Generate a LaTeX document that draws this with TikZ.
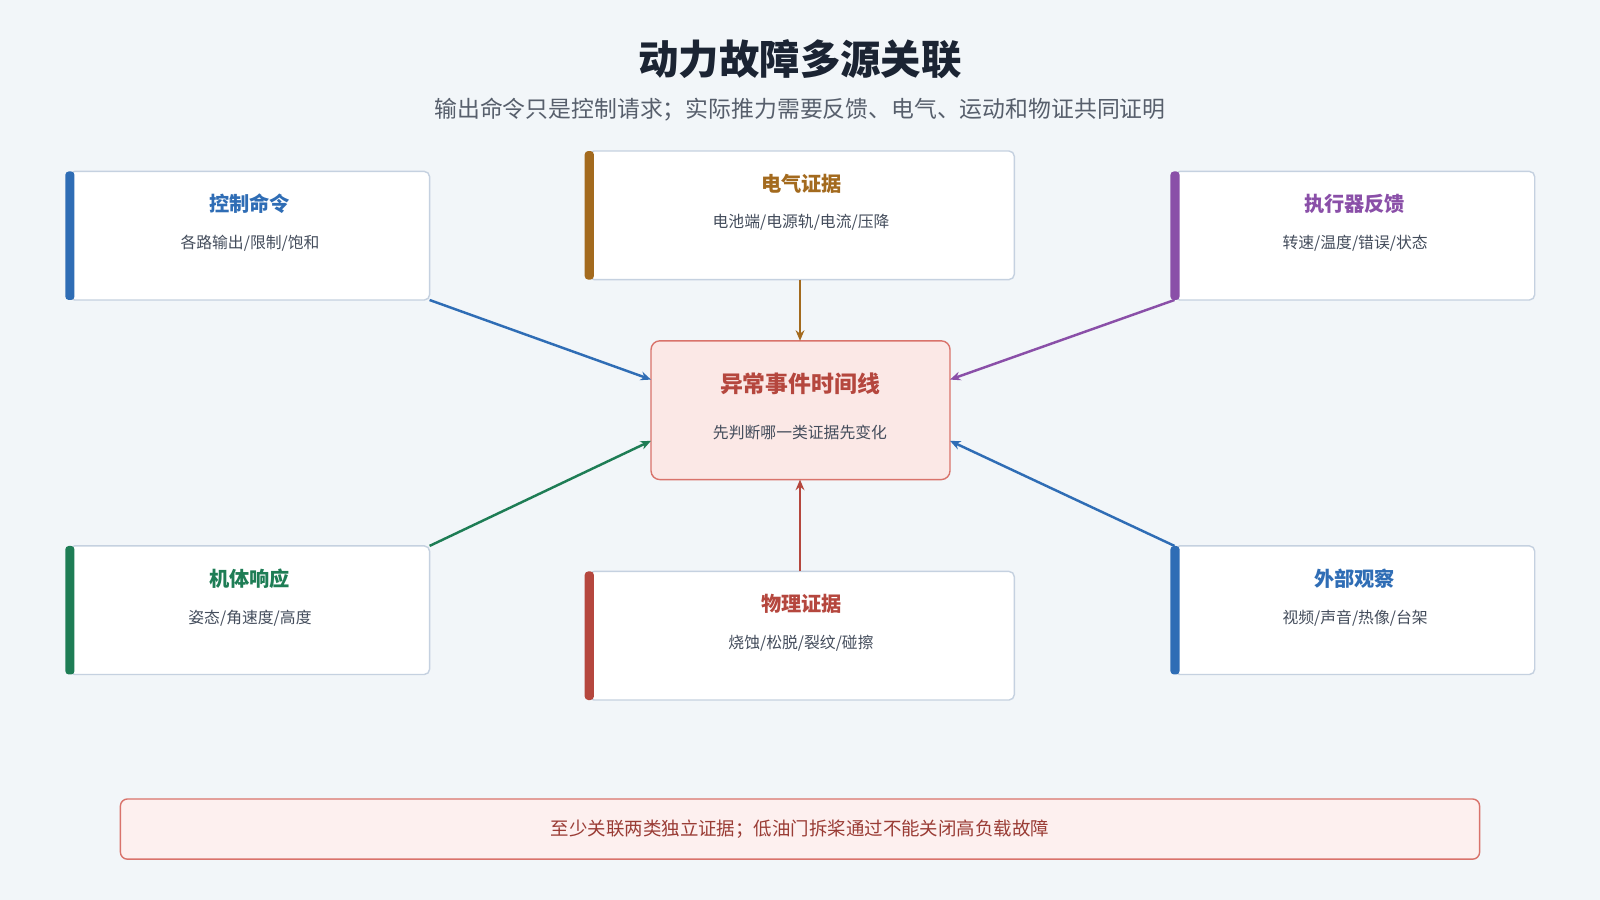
\documentclass[tikz,border=0pt]{standalone}
\usepackage{fontspec}
\setmainfont{Noto Sans CJK SC}
\usetikzlibrary{arrows.meta}
\definecolor{bg}{HTML}{F2F6F9}
\definecolor{bd}{HTML}{C5D1E0}
\definecolor{cblue}{HTML}{2F6DB5}
\definecolor{cbrown}{HTML}{A36A1E}
\definecolor{cpurple}{HTML}{8A4FA8}
\definecolor{cgreen}{HTML}{1E7D55}
\definecolor{cred}{HTML}{B5473E}
\definecolor{sub}{HTML}{444D5C}
\definecolor{title}{HTML}{1B2433}
\definecolor{pinkf}{HTML}{FBE8E6}
\definecolor{pinkd}{HTML}{D9736B}
\definecolor{notef}{HTML}{FDF0EF}
\newcommand{\srcbox}[7]{%
 \draw[box] (#2,#3) rectangle (#4,#5);
 \fill[#6,rounded corners=2pt] (#2-4,#3) rectangle (#2+5,#5);
 \node[ttl=#6] (#1t) at ({(#2+#4)/2},#3+32) {#7};
 \coordinate (#1nw) at (#2,#3); \coordinate (#1se) at (#4,#5);}
\begin{document}
\begin{tikzpicture}[x=0.020408cm,y=-0.020408cm,
  box/.style={draw=bd,fill=white,rounded corners=3pt,line width=0.8pt},
  ttl/.style={font=\fontsize{11.5}{13}\selectfont\bfseries,text=#1},
  st/.style={font=\fontsize{9}{10}\selectfont,text=sub},
  arr/.style={draw=#1,line width=1.4pt,-{Stealth[length=6pt,width=5pt]}}]
\useasboundingbox (0,0) rectangle (1568,882);
\fill[bg] (0,0) rectangle (1568,882);
\node[font=\fontsize{23}{26}\selectfont\bfseries,text=title] (t) at (784,58) {动力故障多源关联};
\node[font=\fontsize{13}{15}\selectfont,text=sub!90] (s) at (784,107) {输出命令只是控制请求；实际推力需要反馈、电气、运动和物证共同证明};
\srcbox{ctl}{68}{168}{421}{294}{cblue}{控制命令}
\node[st] (ctls) at (245,238) {各路输出/限制/饱和};
\srcbox{ele}{577}{148}{994}{274}{cbrown}{电气证据}
\node[st] (eles) at (785,218) {电池端/电源轨/电流/压降};
\srcbox{act}{1151}{168}{1504}{294}{cpurple}{执行器反馈}
\node[st] (acts) at (1328,238) {转速/温度/错误/状态};
\srcbox{bod}{68}{535}{421}{661}{cgreen}{机体响应}
\node[st] (bods) at (245,606) {姿态/角速度/高度};
\srcbox{phy}{577}{560}{994}{686}{cred}{物理证据}
\node[st] (phys) at (785,630) {烧蚀/松脱/裂纹/碰擦};
\srcbox{ext}{1151}{535}{1504}{661}{cblue}{外部观察}
\node[st] (exts) at (1328,606) {视频/声音/热像/台架};
\node[draw=pinkd,fill=pinkf,rounded corners=5pt,line width=0.8pt,minimum width=293*0.020408cm,minimum height=136*0.020408cm] (cen) at (784.5,402) {};
\node[font=\fontsize{13}{15}\selectfont\bfseries,text=cred] (cent) at (784,376) {异常事件时间线};
\node[st] (cens) at (784,424) {先判断哪一类证据先变化};
\coordinate (cwu) at (638,372); \coordinate (cwd) at (638,432);
\coordinate (ceu) at (931,372); \coordinate (ced) at (931,432);
\coordinate (cn) at (784,334); \coordinate (cs) at (784,470);
\coordinate (ctlo) at (421,294); \coordinate (eleo) at (784,274);
\coordinate (acto) at (1151,294); \coordinate (bodo) at (421,535);
\coordinate (phyo) at (784,560); \coordinate (exto) at (1151,535);
\draw[arr=cblue] (ctlo) -- (cwu);
\draw[arr=cbrown] (eleo) -- (cn);
\draw[arr=cpurple] (acto) -- (ceu);
\draw[arr=cgreen] (bodo) -- (cwd);
\draw[arr=cred] (phyo) -- (cs);
\draw[arr=cblue] (exto) -- (ced);
\node[draw=pinkd,fill=notef,rounded corners=4pt,line width=0.8pt,minimum width=1332*0.020408cm,minimum height=59*0.020408cm,text=cred!85!black,font=\fontsize{10.5}{12}\selectfont] (note) at (784,812.5) {至少关联两类独立证据；低油门拆桨通过不能关闭高负载故障};
\end{tikzpicture}
\end{document}
